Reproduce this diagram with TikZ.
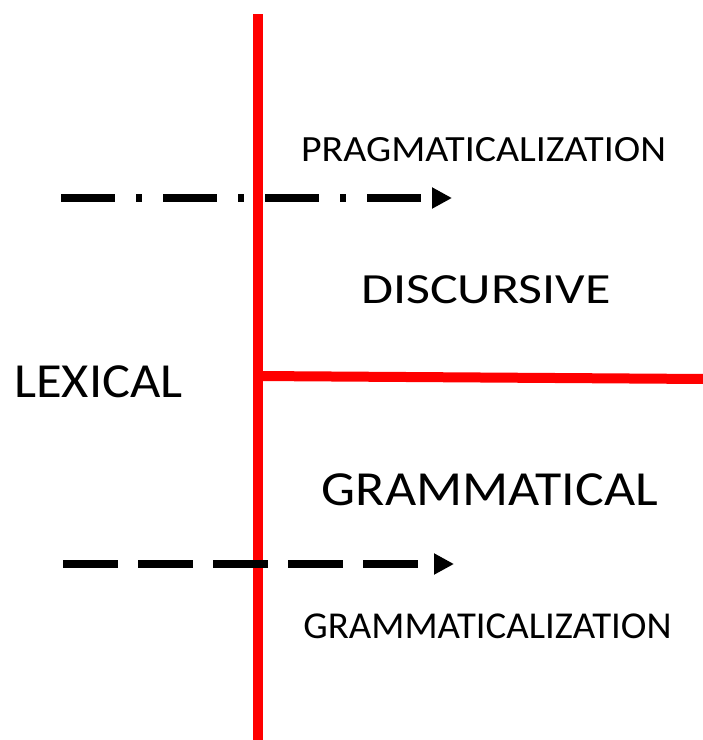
\documentclass[tikz,border=0pt]{standalone}
\usepackage{fontspec}
\usepackage{graphicx}
\setmainfont{Carlito}
\usetikzlibrary{arrows.meta}
\tikzset{
  redline/.style={draw=red, line width=10pt},
  flowarrow/.style={draw=black, line width=8pt, -{Triangle[length=20pt,width=20pt]}},
  lbl/.style={inner sep=0pt, anchor=base, text=black}
}
\begin{document}
\begin{tikzpicture}[x=1pt,y=-1pt]
\useasboundingbox (0,0) rectangle (703,740);
% red dividers
\coordinate (vtop) at (258,14);
\coordinate (vbot) at (258,742);
\coordinate (hleft) at (258,376);
\coordinate (hright) at (705,379);
\draw[redline] (vtop) -- (vbot);
\draw[redline] (hleft) -- (hright);
% arrows
\coordinate (pa) at (61,198);
\coordinate (pb) at (452,198);
\coordinate (ga) at (63,564);
\coordinate (gb) at (454,564);
\draw[flowarrow, dash pattern=on 54pt off 21pt on 6pt off 21pt] (pa) -- (pb);
\draw[flowarrow, dash pattern=on 55pt off 20pt] (ga) -- (gb);
% labels
\node[lbl, font=\fontsize{37}{40}\selectfont] (prag) at (483.5,161) {\scalebox{1.078}[1]{PRAGMATICALIZATION}};
\node[lbl, font=\fontsize{43}{46}\selectfont] (disc) at (486,303) {\scalebox{1.21}[1]{DISCURSIVE}};
\node[lbl, font=\fontsize{49}{52}\selectfont] (lex) at (98.5,397) {\scalebox{1.07}[1]{LEXICAL}};
\node[lbl, font=\fontsize{49}{52}\selectfont] (gram) at (490,505) {\scalebox{1.10}[1]{GRAMMATICAL}};
\node[lbl, font=\fontsize{38}{41}\selectfont] (gramz) at (487.5,638) {\scalebox{1.02}[1]{GRAMMATICALIZATION}};
\end{tikzpicture}
\end{document}
